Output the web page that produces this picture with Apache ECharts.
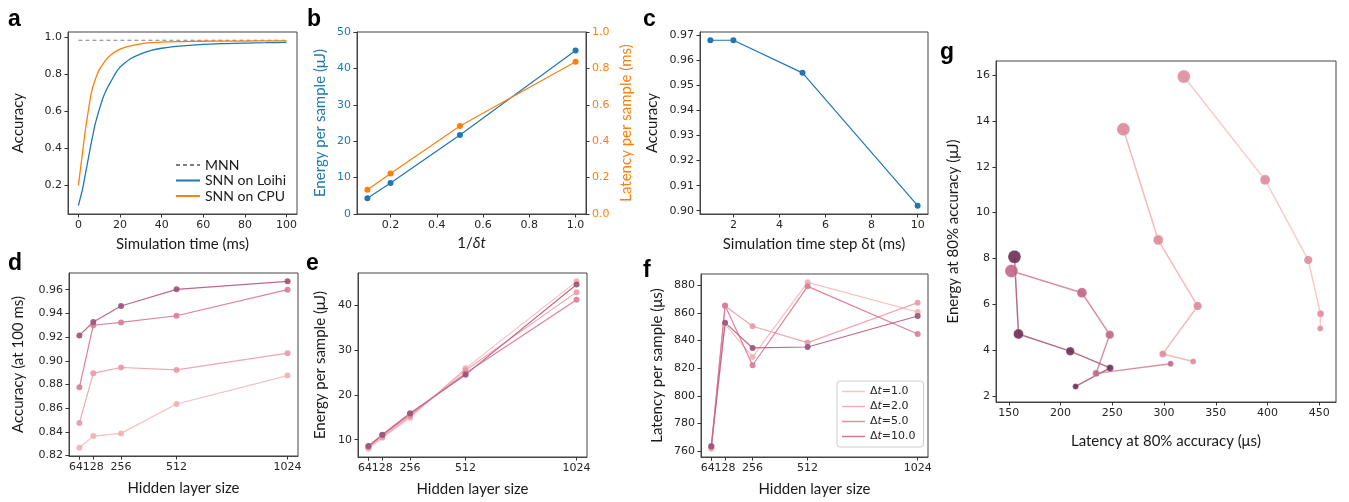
<!DOCTYPE html>
<html><head><meta charset="utf-8">
<script src="https://cdn.jsdelivr.net/npm/echarts@6/dist/echarts.min.js"></script>
<style>html,body{margin:0;padding:0;background:#fff}#chart{width:1349px;height:502px}</style>
</head><body><div id="chart"></div>
<script>
// ---------------- DATA ----------------
// (a) accuracy vs simulation time
const simTime = [0,1,2,3,4,5,6,7,8,9,10,12,14,16,18,20,22,25,30,35,40,45,50,60,70,80,90,100];
const accLoihi = [0.09,0.135,0.18,0.24,0.30,0.36,0.42,0.475,0.53,0.57,0.61,0.68,0.73,0.77,0.81,0.84,0.86,0.885,0.912,0.93,0.942,0.95,0.955,0.963,0.967,0.970,0.972,0.974];
const accCpu = [0.20,0.29,0.38,0.47,0.55,0.62,0.69,0.735,0.77,0.80,0.825,0.86,0.89,0.91,0.925,0.937,0.946,0.955,0.966,0.972,0.975,0.977,0.978,0.980,0.981,0.981,0.982,0.982];
const mnnTime = [0, 100];
const accMnn = [0.985, 0.985];
// (b) energy / latency vs 1/dt
const invDt = [0.1, 0.2, 0.5, 1.0];
const energyB = [4.3, 8.5, 21.7, 44.9];
const latencyB = [0.133, 0.223, 0.484, 0.837];
// (c) accuracy vs dt
const stepDt = [1, 2, 5, 10];
const accC = [0.968, 0.968, 0.955, 0.902];
// (d,e,f) vs hidden layer size, one array per dt
const hiddenSizes = [64, 128, 256, 512, 1024];
const dtNames = ['Δt=1.0', 'Δt=2.0', 'Δt=5.0', 'Δt=10.0'];
const accD_dt1 = [0.8266, 0.8364, 0.8387, 0.8635, 0.8875];
const accD_dt2 = [0.8474, 0.8895, 0.8943, 0.8923, 0.9064];
const accD_dt5 = [0.8776, 0.9300, 0.9324, 0.9380, 0.9600];
const accD_dt10 = [0.9214, 0.9327, 0.9462, 0.9603, 0.9671];
const energyE_dt1 = [8.0, 10.4, 14.9, 25.9, 45.3];
const energyE_dt2 = [8.3, 10.6, 15.2, 25.5, 42.9];
const energyE_dt5 = [8.5, 11.0, 15.6, 24.8, 41.2];
const energyE_dt10 = [8.6, 11.1, 15.9, 24.5, 44.6];
const latF_dt1 = [761.8, 852.0, 828.2, 882.2, 860.7];
const latF_dt2 = [762.5, 865.0, 850.4, 838.6, 867.5];
const latF_dt5 = [763.5, 865.5, 822.2, 879.3, 844.8];
const latF_dt10 = [763.5, 853.0, 834.7, 835.4, 857.8];
// (g) latency & energy at 80% accuracy (points ordered by hidden size 64..1024)
const latG_dt1 = [451.0, 451.3, 439.4, 397.7, 319.1];
const enG_dt1 = [4.94, 5.58, 7.93, 11.43, 15.94];
const latG_dt2 = [328.1, 298.8, 332.5, 294.4, 260.7];
const enG_dt2 = [3.50, 3.83, 5.92, 8.80, 13.64];
const latG_dt5 = [306.3, 234.3, 247.5, 220.6, 152.5];
const enG_dt5 = [3.40, 2.98, 4.67, 6.50, 7.45];
const latG_dt10 = [214.5, 247.8, 209.3, 159.3, 155.4];
const enG_dt10 = [2.41, 3.22, 3.95, 4.70, 8.07];
// tick labels
const ticksAx = [0, 20, 40, 60, 80, 100];
const ticksAy = [0.2, 0.4, 0.6, 0.8, 1.0];
const ticksBx = [0.2, 0.4, 0.6, 0.8, 1.0];
const ticksByL = [0, 10, 20, 30, 40, 50];
const ticksByR = [0, 0.2, 0.4, 0.6, 0.8, 1.0];
const ticksCx = [2, 4, 6, 8, 10];
const ticksCy = [0.90, 0.91, 0.92, 0.93, 0.94, 0.95, 0.96, 0.97];
const ticksDy = [0.82, 0.84, 0.86, 0.88, 0.90, 0.92, 0.94, 0.96];
const ticksEy = [10, 20, 30, 40];
const ticksFy = [760, 780, 800, 820, 840, 860, 880];
const ticksGx = [150, 200, 250, 300, 350, 400, 450];
const ticksGy = [2, 4, 6, 8, 10, 12, 14, 16];

// ---------------- STYLE ----------------
const TICK_FONT = 'DejaVu Sans';
const NAME_FONT = 'Lato';
const BLUE = '#1f77b4', ORANGE = '#ff7f0e';
const lineCols = ['#f7bfc0', '#efa7b0', '#e08099', '#c2668d'];
const markCols = ['#efb0b4', '#e89aa8', '#d67d97', '#9a5276'];
const gLineCols = ['#fac9c9', '#f4b9ba', '#d8929f', '#b46d88'];
const gMarkCols = ['#dd8d9f', '#db899b', '#c06788', '#6d2f52'];
const gSizes = [6, 7, 8.5, 10, 13];

const zip = (xs, ys) => xs.map((x, i) => [x, ys[i]]);
const f1 = v => v.toFixed(1), f2 = v => v.toFixed(2), f0 = v => String(Math.round(v));

function ax(o) {
  return {
    type: 'value', gridIndex: o.g, min: o.min, max: o.max, position: o.pos,
    name: o.name, nameLocation: 'middle', nameGap: o.gap, nameRotate: o.rot,
    nameTextStyle: Object.assign({fontFamily: NAME_FONT, fontSize: 15, color: o.nameColor || '#1a1a1a'}, o.nts || {}),
    axisLine: {show: o.noLine ? false : true, onZero: false, lineStyle: {color: '#444', width: 1}},
    axisTick: {show: true, inside: false, length: 3.5, lineStyle: {color: '#333', width: 1}, customValues: o.ticks},
    axisLabel: {show: true, customValues: o.labels || o.ticks, formatter: o.fmt || f0, fontFamily: TICK_FONT, fontSize: 11,
                color: o.labelColor || '#262626', margin: 6, hideOverlap: false, padding: o.lpad || 0},
    splitLine: {show: false}
  };
}
const gridBase = {show: true, borderColor: '#444', borderWidth: 1, backgroundColor: 'transparent', containLabel: false, outerBoundsMode: 'none'};
const grids = [
  {left: 68, top: 32, width: 229, height: 182},
  {left: 357, top: 32, width: 229, height: 182},
  {left: 700, top: 32, width: 228, height: 182},
  {left: 69, top: 273, width: 229, height: 183},
  {left: 358, top: 273, width: 229, height: 184},
  {left: 701, top: 274, width: 227, height: 183},
  {left: 996, top: 61, width: 340, height: 341}
].map(g => Object.assign({}, gridBase, g));

const xAxes = [
  ax({g: 0, min: -5, max: 105, ticks: ticksAx, name: 'Simulation time (ms)', gap: 23}),
  ax({g: 1, min: 0.055, max: 1.045, ticks: ticksBx, fmt: f1, name: '{n|1/}{i|δt}', gap: 22,
      nts: {rich: {n: {fontFamily: NAME_FONT, fontSize: 15, color: '#1a1a1a'}, i: {fontFamily: NAME_FONT, fontSize: 15, fontStyle: 'italic', color: '#1a1a1a'}}}}),
  ax({g: 2, min: 0.55, max: 10.45, ticks: ticksCx, name: 'Simulation time step δt (ms)', gap: 23}),
  ax({g: 3, min: 16, max: 1072, ticks: hiddenSizes, labels: hiddenSizes.slice(1), name: 'Hidden layer size', gap: 25}),
  ax({g: 4, min: 16, max: 1072, ticks: hiddenSizes, labels: hiddenSizes.slice(1), name: 'Hidden layer size', gap: 25}),
  ax({g: 5, min: 16, max: 1072, ticks: hiddenSizes, labels: hiddenSizes.slice(1), name: 'Hidden layer size', gap: 25}),
  ax({g: 6, min: 137.56, max: 466.24, ticks: ticksGx, name: 'Latency at 80% accuracy (μs)', gap: 32}),
  // label-only companions carrying the first hidden-size label (avoids automatic overlap hiding)
  ax({g: 3, min: 16, max: 1072, ticks: hiddenSizes.slice(0, 1), noLine: true, pos: 'bottom', lpad: [0, 7, 0, 0]}),
  ax({g: 4, min: 16, max: 1072, ticks: hiddenSizes.slice(0, 1), noLine: true, pos: 'bottom', lpad: [0, 7, 0, 0]}),
  ax({g: 5, min: 16, max: 1072, ticks: hiddenSizes.slice(0, 1), noLine: true, pos: 'bottom', lpad: [0, 7, 0, 0]})
];
const yAxes = [
  ax({g: 0, min: 0.045, max: 1.03, ticks: ticksAy, fmt: f1, name: 'Accuracy', gap: 42, rot: 90}),
  ax({g: 1, min: 0, max: 50, ticks: ticksByL, name: 'Energy per sample (μJ)', gap: 29, rot: 90, nameColor: BLUE, labelColor: BLUE}),
  ax({g: 1, min: 0, max: 1, ticks: ticksByR, fmt: f1, pos: 'right', name: 'Latency per sample (ms)', gap: 33, rot: 90, nameColor: ORANGE, labelColor: ORANGE}),
  ax({g: 2, min: 0.8987, max: 0.9713, ticks: ticksCy, fmt: f2, name: 'Accuracy', gap: 40, rot: 90}),
  ax({g: 3, min: 0.8196, max: 0.9741, ticks: ticksDy, fmt: f2, name: 'Accuracy (at 100 ms)', gap: 43, rot: 90}),
  ax({g: 4, min: 6.135, max: 47.165, ticks: ticksEy, name: 'Energy per sample (μJ)', gap: 30, rot: 90}),
  ax({g: 5, min: 755.78, max: 888.22, ticks: ticksFy, name: 'Latency per sample (μs)', gap: 36, rot: 90}),
  ax({g: 6, min: 1.73, max: 16.62, ticks: ticksGy, name: 'Energy at 80% accuracy (μJ)', gap: 35, rot: 90})
];

const series = [];
const base = {type: 'line', silent: true, animation: false, smooth: false};
// a
series.push(Object.assign({}, base, {name: 'MNN', xAxisIndex: 0, yAxisIndex: 0, data: zip(mnnTime, accMnn), symbol: 'none', color: '#808080',
  lineStyle: {color: '#808080', width: 1.1, type: [4, 3]}}));
series.push(Object.assign({}, base, {name: 'SNN on Loihi', xAxisIndex: 0, yAxisIndex: 0, data: zip(simTime, accLoihi), symbol: 'none', smooth: 0.25, color: BLUE,
  lineStyle: {color: BLUE, width: 1.3}}));
series.push(Object.assign({}, base, {name: 'SNN on CPU', xAxisIndex: 0, yAxisIndex: 0, data: zip(simTime, accCpu), symbol: 'none', smooth: 0.25, color: ORANGE,
  lineStyle: {color: ORANGE, width: 1.3}}));
// b
series.push(Object.assign({}, base, {name: 'b-energy', xAxisIndex: 1, yAxisIndex: 1, data: zip(invDt, energyB), symbol: 'circle', symbolSize: 6, color: BLUE,
  lineStyle: {color: BLUE, width: 1.2}, itemStyle: {color: BLUE}}));
series.push(Object.assign({}, base, {name: 'b-latency', xAxisIndex: 1, yAxisIndex: 2, data: zip(invDt, latencyB), symbol: 'circle', symbolSize: 6, color: ORANGE,
  lineStyle: {color: ORANGE, width: 1.2}, itemStyle: {color: ORANGE}}));
// c
series.push(Object.assign({}, base, {name: 'c-acc', xAxisIndex: 2, yAxisIndex: 3, data: zip(stepDt, accC), symbol: 'circle', symbolSize: 6, color: BLUE,
  lineStyle: {color: BLUE, width: 1.2}, itemStyle: {color: BLUE}}));
// d, e, f
const dSets = [accD_dt1, accD_dt2, accD_dt5, accD_dt10];
const eSets = [energyE_dt1, energyE_dt2, energyE_dt5, energyE_dt10];
const fSets = [latF_dt1, latF_dt2, latF_dt5, latF_dt10];
[[dSets, 3, 4, 'd'], [eSets, 4, 5, 'e'], [fSets, 5, 6, 'f']].forEach(([sets, xi, yi, tag]) => {
  sets.forEach((vals, k) => {
    series.push(Object.assign({}, base, {
      name: tag === 'f' ? dtNames[k] : tag + '-' + dtNames[k], xAxisIndex: xi, yAxisIndex: yi,
      data: zip(hiddenSizes, vals), symbol: 'circle', symbolSize: 6, color: lineCols[k],
      lineStyle: {color: lineCols[k], width: 1.2}, itemStyle: {color: markCols[k], opacity: 0.9}
    }));
  });
});
// g
const gLat = [latG_dt1, latG_dt2, latG_dt5, latG_dt10];
const gEn = [enG_dt1, enG_dt2, enG_dt5, enG_dt10];
gLat.forEach((lats, k) => {
  series.push(Object.assign({}, base, {
    name: 'g-' + dtNames[k], xAxisIndex: 6, yAxisIndex: 7, data: zip(lats, gEn[k]),
    symbol: 'circle', symbolSize: (v, p) => gSizes[p.dataIndex], color: gLineCols[k],
    lineStyle: {color: gLineCols[k], width: 1.5},
    itemStyle: {color: gMarkCols[k], opacity: 0.9, borderColor: 'rgba(255,255,255,0.5)', borderWidth: 0.6}
  }));
});

const dtRich = name => '{n|Δ}{i|t}{n|' + name.slice(2) + '}';
const legends = [
  {data: ['MNN', 'SNN on Loihi', 'SNN on CPU'], orient: 'vertical', left: 175, top: 158, itemWidth: 24, itemHeight: 10, itemGap: 1.5,
   padding: 0, selectedMode: false, itemStyle: {opacity: 0, borderWidth: 0},
   textStyle: {fontFamily: NAME_FONT, fontSize: 14, lineHeight: 14, color: '#1a1a1a'}},
  {data: dtNames.map((n, k) => ({name: n, icon: 'path://M0,5 L24,5 L24,6.5 L0,6.5 Z', itemStyle: {color: lineCols[k]}})),
   orient: 'vertical', left: 837, top: 381, itemWidth: 23, itemHeight: 12, itemGap: 4, padding: [5, 8, 5, 5],
   borderColor: '#cccccc', borderWidth: 1, borderRadius: 3, backgroundColor: '#fff', selectedMode: false,
   formatter: dtRich,
   textStyle: {fontFamily: TICK_FONT, fontSize: 11, color: '#262626', rich: {
     n: {fontFamily: TICK_FONT, fontSize: 11, color: '#262626'},
     i: {fontFamily: TICK_FONT, fontSize: 11, fontStyle: 'italic', color: '#262626'}}}}
];

const letters = [['a', 8, 8], ['b', 307, 8], ['c', 643, 8], ['d', 8, 252], ['e', 306, 252], ['f', 643, 259], ['g', 940, 41]];
const graphic = letters.map(([t, x, y]) => ({type: 'text', left: x, top: y, silent: true,
  style: {text: t, font: 'bold 23px "Liberation Sans", Arial, sans-serif', fill: '#000'}}));

const chart = echarts.init(document.getElementById('chart'), null, {renderer: 'canvas'});
chart.setOption({
  animation: false, backgroundColor: '#fff',
  grid: grids, xAxis: xAxes, yAxis: yAxes, series: series, legend: legends, graphic: graphic,
  tooltip: {show: false}
});
</script></body></html>
